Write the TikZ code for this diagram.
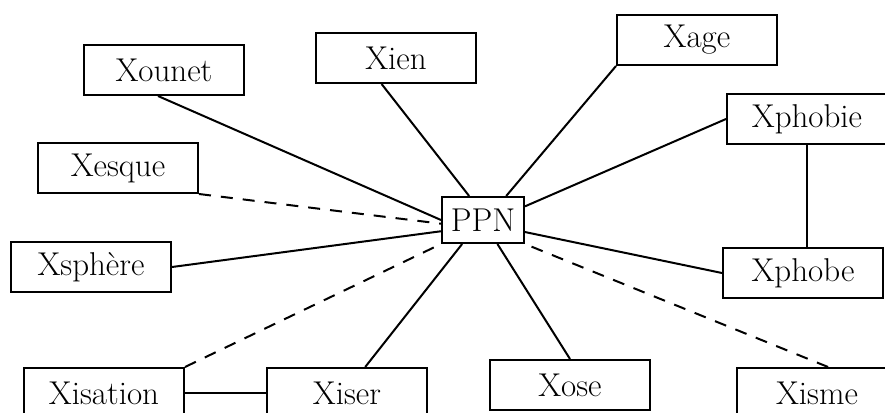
\documentclass[tikz,border=0pt]{standalone}
\usepackage{fontspec}

\begin{document}
\begin{tikzpicture}[
        x=1pt, y=-1pt,
        every node/.style={font=\fontsize{33}{37}\selectfont},
        mot/.style={draw, line width=2pt, minimum width=160pt, minimum height=50pt, inner sep=0pt},
        centre/.style={draw, line width=2pt, minimum width=82pt, minimum height=46pt, inner sep=0pt},
        lien/.style={line width=2pt},
        lienfaible/.style={line width=2pt, dash pattern=on 12pt off 10pt}
    ]

    % Cadre
    \useasboundingbox (0,0) rectangle (885,412);
    \clip (0,0) rectangle (885,412);

    % Centre
    \node[centre] (ppn) at (483,220) {PPN};

    % Mots
    \node[mot] (xounet) at (164,70) {Xounet};
    \node[mot] (xien) at (396,58) {Xien};
    \node[mot] (xage) at (697,40) {Xage};
    \node[mot] (xphobie) at (807,119) {Xphobie};
    \node[mot] (xesque) at (118,168) {Xesque};
    \node[mot] (xsphere) at (91,267) {Xsphère};
    \node[mot] (xphobe) at (803,273) {Xphobe};
    \node[mot] (xisation) at (104,393) {Xisation};
    \node[mot] (xiser) at (347,393) {Xiser};
    \node[mot] (xose) at (570,385) {Xose};
    \node[mot] (xisme) at (817,393) {Xisme};

    % Liens
    \draw[lien] (xounet.257) -- (ppn.west);
    \draw[lien] (xien.241) -- (ppn.120);
    \draw[lien] (xage.south west) -- (ppn.46);
    \draw[lien] (xphobie.west) -- (ppn.18);
    \draw[lien] (xphobie.south) -- (xphobie.south |- xphobe.north);
    \draw[lien] (xsphere.east) -- (ppn.195);
    \draw[lien] (xphobe.west) -- (ppn.-16);
    \draw[lien] (xiser.55) -- (ppn.229);
    \draw[lien] (xose.north) -- (ppn.301);
    \draw[lien] (xisation.east) -- (xiser.west);

    % Liens en pointilles
    \draw[lienfaible] (xesque.south east) -- (ppn.185);
    \draw[lienfaible] (xisation.north east) -- (ppn.south west);
    \draw[lienfaible] (xisme.67) -- (ppn.south east);
\end{tikzpicture}
\end{document}
